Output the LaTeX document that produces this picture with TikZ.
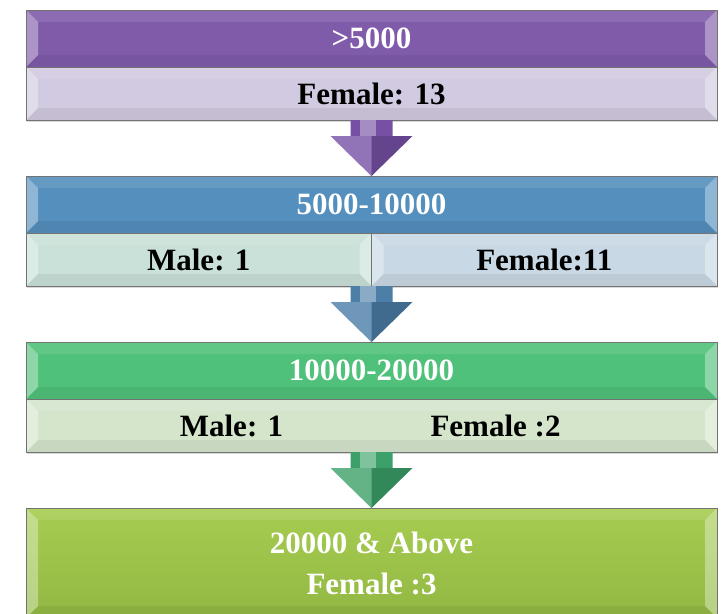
\documentclass[tikz,border=0pt]{standalone}
\usepackage{fontspec}
\setmainfont{Liberation Serif}
\usetikzlibrary{positioning, calc, shadows}
\definecolor{purplehead}{RGB}{128,91,170}
\definecolor{purplesub}{RGB}{210,202,224}
\definecolor{purplearrow}{RGB}{118,80,165}
\definecolor{bluehead}{RGB}{84,143,189}
\definecolor{bluesubleft}{RGB}{201,225,216}
\definecolor{bluesubright}{RGB}{200,216,228}
\definecolor{bluearrow}{RGB}{76,126,168}
\definecolor{greenhead}{RGB}{80,193,122}
\definecolor{greensub}{RGB}{212,229,204}
\definecolor{greenarrow}{RGB}{60,160,106}
\definecolor{limetop}{RGB}{166,204,80}
\definecolor{limebottom}{RGB}{146,184,68}
\tikzset{
x=1pt, y=-1pt, % pixel units, y pointing down
node distance=0pt, % boxes of one step touch each other
every node/.style={inner sep=0pt, outer sep=0pt, font=\fontsize{31}{41}\selectfont\bfseries},
bevelled/.style={path picture={ % light side wedges and top/bottom bands
  \fill[white,opacity=.35] (path picture bounding box.north west) -- ($(path picture bounding box.north west)+(12,12)$) -- ($(path picture bounding box.south west)+(12,-12)$) -- (path picture bounding box.south west) -- cycle;
  \fill[white,opacity=.35] (path picture bounding box.north east) -- ($(path picture bounding box.north east)+(-12,12)$) -- ($(path picture bounding box.south east)+(-12,-12)$) -- (path picture bounding box.south east) -- cycle;
  \fill[white,opacity=.1] (path picture bounding box.north west) -- ($(path picture bounding box.north west)+(12,12)$) -- ($(path picture bounding box.north east)+(-12,12)$) -- (path picture bounding box.north east) -- cycle;
  \fill[black,opacity=.06] (path picture bounding box.south west) -- ($(path picture bounding box.south west)+(12,-12)$) -- ($(path picture bounding box.south east)+(-12,-12)$) -- (path picture bounding box.south east) -- cycle;
}},
box/.style={draw=black!55, line width=.8pt, minimum width=691pt, bevelled, drop shadow={opacity=.3, shadow xshift=1pt, shadow yshift=-2pt}},
head/.style={box, minimum height=57pt, text=white},
sub/.style={box, minimum height=53pt, text=black},
half/.style={sub, minimum width=345.5pt},
}
% block arrow from one box down to the next
\newcommand{\flowarrow}[3]{
  \fill[#3] ($(#1)+(-21,0)$) -- ($(#2)+(-21,-40)$) -- ($(#2)+(-41,-40)$) -- (#2) -- ($(#2)+(41,-40)$) -- ($(#2)+(21,-40)$) -- ($(#1)+(21,0)$) -- cycle;
  \fill[white,opacity=.35] ($(#1)+(-12,0)$) -- ($(#2)+(-12,-40)$) -- ($(#2)+(4,-40)$) -- ($(#1)+(4,0)$) -- cycle;
  \fill[white,opacity=.2] ($(#2)+(-41,-40)$) -- ($(#2)+(0,-40)$) -- (#2) -- cycle;
  \fill[black,opacity=.15] ($(#2)+(0,-40)$) -- ($(#2)+(41,-40)$) -- (#2) -- cycle;
}

\begin{document}
\begin{tikzpicture}
\useasboundingbox (0,0) rectangle (722,613);

% >5000
\node[head, fill=purplehead] (h1) at (371.5,38.5) {>5000};
\node[sub, fill=purplesub, below=of h1] (s1) {Female: 13};

% 5000-10000
\node[head, fill=bluehead, below=56pt of s1] (h2) {5000-10000};
\node[half, fill=bluesubleft, below right=0pt and 0pt of h2.south west] (s2a) {Male: 1};
\node[half, fill=bluesubright, right=of s2a] (s2b) {Female:11};

% 10000-20000
\node[head, fill=greenhead, below=56pt of h2.south, yshift=-53pt] (h3) {10000-20000};
\node[sub, fill=greensub, below=of h3] (s3) {};
\node[xshift=-140pt] (m3) at (s3) {Male: 1};
\node[xshift=124pt] (f3) at (s3) {Female :2};

% 20000 & Above
\node[box, minimum height=110pt, top color=limetop, bottom color=limebottom, text=white, align=center, below=56pt of s3] (h4) {20000 \& Above\\Female :3};

\flowarrow{s1.south}{h2.north}{purplearrow}
\flowarrow{s2a.south east}{h3.north}{bluearrow}
\flowarrow{s3.south}{h4.north}{greenarrow}
\end{tikzpicture}
\end{document}
